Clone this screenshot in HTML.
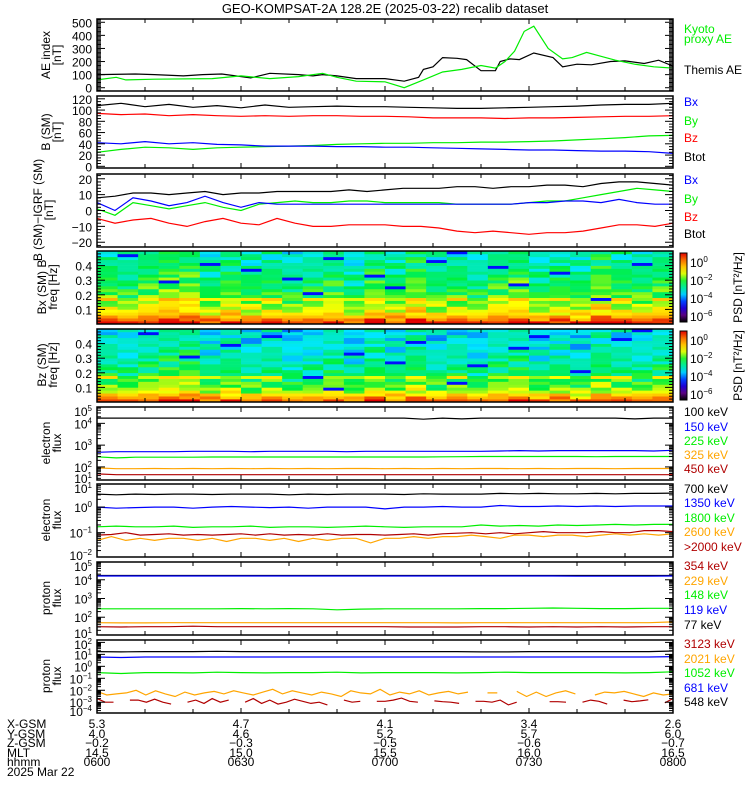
<!DOCTYPE html>
<html><head><meta charset="utf-8"><style>
html,body{margin:0;padding:0;background:#fff;}
svg{display:block;font-family:"Liberation Sans",sans-serif;}
</style></head><body>
<svg id="chart" width="750" height="800" viewBox="0 0 750 800" xmlns="http://www.w3.org/2000/svg">
<rect width="750" height="800" fill="#fff"/>
<text x="385" y="13" font-size="13" text-anchor="middle">GEO-KOMPSAT-2A 128.2E (2025-03-22) recalib dataset</text>
</svg>
<script>
// ---------- DATA ----------
const themisT = [0,8,12,18,22,26,32,36,42,45,47,50,54,60,64,67,68,70,72,75,77,80,82,83,84,86,88,91,95,97,100,103,107,110,114,117,120];
const themisAE = [100,105,100,90,100,105,75,110,100,90,100,90,70,70,50,80,140,160,230,225,215,130,130,130,200,220,215,265,230,160,180,175,200,205,185,210,165];
const kyotoT = [0,4,6,12,24,30,36,42,47,50,54,60,64,68,72,76,80,83,85,87,89,91,94,97,99,102,105,108,112,116,120];
const kyotoAE = [60,80,60,65,70,90,70,85,110,80,50,45,0,60,120,140,170,150,200,280,430,470,300,220,230,270,240,210,180,160,150];

const bTot = [108,112,106,110,105,108,104,109,105,106,107,106,106,105,104,103,103,104,105,106,107,109,110,110,112];
const bZ = [94,92,93,90,92,90,89,90,89,90,90,89,89,88,86,86,86,85,86,86,87,88,89,89,90];
const bY = [25,30,34,33,30,33,34,35,36,37,39,40,41,41,42,42,43,43,44,45,47,49,51,54,55];
const bX = [42,40,44,40,42,39,38,36,36,36,35,35,34,34,33,32,31,30,29,29,28,27,27,26,23];

const dTot = [8,9,11,11,10,11,12,10,11,11,12,12,12,12,13,12,13,14,14,14,15,15,14,15,15,16,16,15,17,18,18,17,16];
const dY = [1,-3,5,3,1,3,5,2,0,4,5,6,5,5,6,6,5,5,5,5,4,4,4,4,5,6,6,8,10,12,14,13,12];
const dX = [5,0,8,6,3,5,9,5,2,5,4,4,4,4,4,4,4,4,4,4,4,4,4,4,5,5,6,6,5,7,5,4,4];
const dZ = [-5,-8,-6,-5,-8,-10,-7,-5,-8,-9,-5,-8,-10,-10,-9,-9,-9,-10,-10,-11,-13,-14,-13,-14,-15,-14,-14,-13,-11,-9,-9,-10,-8];

const rowBaseBx = [0.97,0.9,0.82,0.76,0.72,0.7,0.68,0.66,0.73,0.61,0.6,0.58,0.57,0.56,0.57,0.55,0.54,0.53,0.52,0.52,0.5,0.5,0.49,0.48,0.5];
const rowBaseBz = [0.93,0.85,0.78,0.7,0.66,0.63,0.62,0.6,0.69,0.55,0.54,0.53,0.52,0.5,0.5,0.49,0.48,0.48,0.47,0.46,0.46,0.45,0.45,0.44,0.46];
const colOffBx = [0.02,-0.02,0.03,0.07,0.06,-0.03,0.02,-0.01,0,-0.04,-0.02,0.01,-0.05,0.03,-0.01,0.05,-0.02,0,-0.04,0.02,0.04,-0.03,0,-0.02,0.06,0.01,-0.01,0.02];
const colOffBz = [0.01,-0.02,0.02,0.05,0.06,-0.02,0.01,-0.03,0,-0.05,-0.03,0.01,-0.04,0.02,-0.02,0.03,-0.03,0,-0.05,0.01,0.03,-0.03,0,-0.04,0.03,0,-0.02,0.01];
const specTexture = [0,0.05,-0.06,0.03,-0.03,0.07,-0.05,0.02,-0.08,0.04,0,-0.02,0.06,-0.04,0.03,-0.07,0.01];
const stripesBx = [[1,23],[5,20],[7,18],[9,15],[11,22],[13,16],[14,12],[16,21],[17,24],[19,19],[20,13],[22,17],[24,8],[26,20],[3,14],[10,10]];
const stripesBz = [[2,23],[4,15],[8,22],[10,8],[12,16],[14,13],[15,20],[17,6],[18,12],[20,18],[21,22],[23,10],[25,21],[26,24],[6,19],[11,4]];

const e100 = [17400,17400,17400,17400,17400,17400,17400,17400,17400,17400,17400,17400,17400,17400,17400,17400,17400,15500,17400,16000,17400,17400,17400,17400,17400,17400,17400,17400,16000,17400,17400];
const e150 = [470,500,500,500,500,520,520,520,500,520,520,520,520,500,520,520,520,520,520,520,520,540,560,540,560,560,560,560,560,540,580];
const e225 = [290,260,280,280,280,280,285,285,285,285,285,285,285,285,285,285,285,285,290,295,300,300,300,300,300,300,295,300,300,300,300];
const e325 = [90,83,83,85,83,85,83,85,83,85,83,85,83,85,85,83,85,83,85,83,85,85,83,85,83,85,85,83,85,85,85];
const e450 = [48,44,44,44,44,44,44,44,44,44,44,44,44,44,44,44,44,44,44,44,44,44,44,44,44,44,44,44,44,44,44];

const e700 = [3.2,3.0,3.2,3.1,3.2,3.2,3.1,3.2,3.2,3.2,3.0,3.2,3.1,3.2,3.2,3.2,3.1,3.3,3.2,3.2,3.2,3.4,3.3,3.4,3.3,3.3,3.4,3.3,3.4,3.4,3.5];
const e1350 = [1.0,0.9,0.95,1.0,1.0,0.9,1.0,1.05,1.0,0.95,1.0,0.9,1.0,1.0,1.0,0.85,1.0,1.0,1.05,1.0,1.0,1.15,1.05,1.05,1.1,1.05,1.1,1.05,1.1,1.1,1.1];
const e1800 = [0.17,0.18,0.17,0.17,0.18,0.16,0.17,0.17,0.18,0.16,0.17,0.17,0.16,0.17,0.18,0.17,0.16,0.17,0.17,0.17,0.2,0.18,0.19,0.18,0.2,0.19,0.2,0.21,0.2,0.21,0.21];
const e2600 = [0.05,0.07,0.05,0.06,0.05,0.06,0.06,0.05,0.06,0.045,0.06,0.06,0.05,0.06,0.045,0.06,0.05,0.06,0.06,0.04,0.06,0.06,0.07,0.06,0.07,0.07,0.08,0.07,0.06,0.08,0.08,0.07,0.08,0.08,0.07,0.08,0.09,0.08,0.09,0.08,0.09];
const e2000 = [0.08,0.085,0.1,0.08,0.085,0.09,0.08,0.085,0.08,0.085,0.09,0.08,0.09,0.08,0.085,0.08,0.09,0.08,0.085,0.085,0.08,0.085,0.09,0.08,0.09,0.095,0.1,0.09,0.1,0.09,0.1,0.11,0.1,0.1,0.1,0.11,0.1,0.1,0.12,0.12,0.11];

const p77 = [17000,17000,17000,17000,17000,17000,17000,17000,17000,17000,17000,17000,17000,17000,17000,17000,17000,17000,17000,17000,17000,17000,17000,17000,17000];
const p119 = [16000,16000,16000,16000,16000,16000,16000,16000,16000,16000,16000,16000,16000,16000,16000,16000,16000,16000,16000,16000,15500,15500,15500,15500,16000];
const p148 = [280,280,280,280,280,280,290,280,290,280,250,270,280,280,280,280,290,290,300,310,300,290,290,300,300];
const p229 = [51,50,50,51,51,51,51,51,51,51,51,51,51,51,51,50,51,51,51,51,51,51,51,51,56];
const p354 = [31,30,31,31,33,31,31,31,31,31,31,31,31,30,30,30,31,31,30,31,30,31,30,31,31];

const p548 = [17,16,17,17,17,18,17,17,17,17,17,17,17,17,17,17,16,16,17,17,17,17,17,17,19];
const p681 = [6,5.5,6,6,6,6,6,6,6,6,6,6,6,6,6,6,6,6,6,6,6,6,6,6,6.5];
const p1052 = [0.3,0.25,0.3,0.3,0.28,0.32,0.3,0.28,0.3,0.3,0.32,0.28,0.3,0.3,0.3,0.28,0.3,0.32,0.3,0.3,0.3,0.3,0.28,0.3,0.35];
const p2021 = [8e-3,4e-3,5e-3,6e-3,10e-3,4e-3,9e-3,5e-3,3e-3,7e-3,4e-3,6e-3,8e-3,5e-3,9e-3,6e-3,4e-3,7e-3,12e-3,5e-3,9e-3,6e-3,4e-3,7e-3,5e-3,3e-3,9e-3,6e-3,5e-3,12e-3,4e-3,7e-3,5e-3,9e-3,4e-3,6e-3,8e-3,5e-3,7e-3,null,6e-3,6e-3,null,8e-3,3e-3,7e-3,3e-3,6e-3,9e-3,5e-3,null,4e-3,7e-3,6e-3,8e-3,5e-3,3e-3,6e-3,4e-3,5e-3];
const p3123 = [2e-3,1e-3,1e-3,null,1.5e-3,1.5e-3,1e-3,1.8e-3,1e-3,0.7e-3,null,1e-3,1.5e-3,0.8e-3,2e-3,1e-3,1.5e-3,null,1e-3,2e-3,0.8e-3,1.5e-3,0.7e-3,1e-3,1.8e-3,1.2e-3,0.8e-3,1e-3,0.6e-3,null,1.5e-3,1e-3,1.2e-3,null,1.2e-3,1.2e-3,1.5e-3,2.2e-3,1.2e-3,1e-3,null,1.3e-3,1.1e-3,1e-3,0.8e-3,null,1.2e-3,1.2e-3,1e-3,1.5e-3,0.6e-3,1e-3,null,0.7e-3,null,1.1e-3,1.1e-3,1e-3,null,1e-3,1.5e-3,1.2e-3,0.7e-3,null,1.5e-3,1.1e-3,1.3e-3,1.6e-3,null,0.9e-3,2e-3];

const xTickLabels = [["5.3","4.0","\u22120.2","14.5","0600"],["4.7","4.6","\u22120.3","15.0","0630"],["4.1","5.2","\u22120.5","15.5","0700"],["3.4","5.7","\u22120.6","16.0","0730"],["2.6","6.0","\u22120.7","16.5","0800"]];

// ---------- LAYOUT ----------
const NS = "http://www.w3.org/2000/svg";
const svg = document.getElementById('chart');
const X0 = 97, X1 = 673, T0 = 0, T1 = 120;
const GREEN = "#00ee00", BLUE = "#0000ff", RED = "#ff0000", ORANGE = "#ffa500", DRED = "#b00000";
function xScale(t){ return X0 + (t - T0) / (T1 - T0) * (X1 - X0); }
function el(tag, attrs, parent){ const e = document.createElementNS(NS, tag); for (const k in attrs) e.setAttribute(k, attrs[k]); (parent || svg).appendChild(e); return e; }
function mkY(p){ return v => { const u = p.log ? Math.log10(v) : v; return p.top + p.h - (u - p.min) / (p.max - p.min) * p.h; }; }

const panels = [
 {top:19,h:72,min:-25,max:525,log:false,major:[0,100,200,300,400,500],minor:10},
 {top:96,h:72,min:-3,max:125,log:false,major:[0,20,40,60,80,100,120],minor:5},
 {top:174,h:73,min:-23,max:23,log:false,major:[-20,-10,0,10,20],minor:2},
 {top:251,h:73,min:0,max:0.5,log:false,major:[0.1,0.2,0.3,0.4],minor:0.02},
 {top:329,h:73,min:0,max:0.5,log:false,major:[0.1,0.2,0.3,0.4],minor:0.02},
 {top:407,h:73,min:1.4,max:4.75,log:true,major:[1,2,3,4,5]},
 {top:484,h:73,min:-1.95,max:0.9,log:true,major:[-2,-1,0,1]},
 {top:562,h:73,min:1.05,max:4.95,log:true,major:[1,2,3,4,5]},
 {top:640,h:73,min:-3.9,max:2.2,log:true,major:[-4,-3,-2,-1,0,1,2]}
];

function drawLine(p, ts, vs, color, name){
  const y = mkY(p);
  let d = "", pen = false;
  for (let i = 0; i < vs.length; i++){
    if (vs[i] === null){ pen = false; continue; }
    const t = ts ? ts[i] : i / (vs.length - 1) * (T1 - T0);
    d += (pen ? "L" : "M") + xScale(t).toFixed(1) + " " + y(vs[i]).toFixed(1);
    pen = true;
  }
  const e = el('path', {d:d, fill:'none', stroke:color, 'stroke-width':1.2, 'clip-path':'url(#clip' + panels.indexOf(p) + ')'});
  
  
}

const defs = el('defs', {});
panels.forEach((p, i) => {
  const cp = el('clipPath', {id:'clip' + i}, defs);
  el('rect', {x:X0, y:p.top, width:X1 - X0, height:p.h}, cp);
});

// colormap
function cmap(t){
  t = Math.max(0, Math.min(1, t));
  const s = [[0,0,0,0],[0.1,90,0,130],[0.25,0,0,255],[0.42,0,230,255],[0.58,0,240,60],[0.72,255,255,0],[0.86,255,150,0],[1,225,0,0]];
  for (let i = 1; i < s.length; i++){
    if (t <= s[i][0]){ const a = s[i-1], b = s[i], f = (t - a[0]) / (b[0] - a[0]);
      return `rgb(${Math.round(a[1]+f*(b[1]-a[1]))},${Math.round(a[2]+f*(b[2]-a[2]))},${Math.round(a[3]+f*(b[3]-a[3]))})`; }
  }
  return 'rgb(225,0,0)';
}

function drawSpec(p, rowBase, colOff, stripes, name){
  const g = el('g', {'clip-path':'url(#clip' + panels.indexOf(p) + ')'});
  
  
  const nr = rowBase.length, nc = colOff.length;
  const cw = (X1 - X0) / nc, rh = p.h / nr;
  for (let c = 0; c < nc; c++){
    for (let r = 0; r < nr; r++){
      let v = rowBase[r] + colOff[c] + specTexture[(r * 7 + c * 3) % specTexture.length];
      stripes.forEach(s => { if (s[0] === c && s[1] === r) v = 0.26; });
      const cell = el('rect', {x:(X0 + c * cw).toFixed(2), y:(p.top + p.h - (r + 1) * rh).toFixed(2), width:(cw + 0.5).toFixed(2), height:(rh + 0.3).toFixed(2), fill:cmap(v)}, g);
      
      
    }
  }
}

// ---------- SERIES ----------
drawSpec(panels[3], rowBaseBx, colOffBx, stripesBx, 'bx-spectrogram');
drawSpec(panels[4], rowBaseBz, colOffBz, stripesBz, 'bz-spectrogram');

drawLine(panels[0], themisT, themisAE, '#000', 'themis-ae-line');
drawLine(panels[0], kyotoT, kyotoAE, GREEN, 'kyoto-ae-line');
drawLine(panels[1], null, bTot, '#000', 'btot-line');
drawLine(panels[1], null, bZ, RED, 'bz-line');
drawLine(panels[1], null, bY, GREEN, 'by-line');
drawLine(panels[1], null, bX, BLUE, 'bx-line');
drawLine(panels[2], null, dTot, '#000', 'dbtot-line');
drawLine(panels[2], null, dY, GREEN, 'dby-line');
drawLine(panels[2], null, dX, BLUE, 'dbx-line');
drawLine(panels[2], null, dZ, RED, 'dbz-line');
drawLine(panels[5], null, e100, '#000', 'e100-line');
drawLine(panels[5], null, e150, BLUE, 'e150-line');
drawLine(panels[5], null, e225, GREEN, 'e225-line');
drawLine(panels[5], null, e325, ORANGE, 'e325-line');
drawLine(panels[5], null, e450, DRED, 'e450-line');
drawLine(panels[6], null, e700, '#000', 'e700-line');
drawLine(panels[6], null, e1350, BLUE, 'e1350-line');
drawLine(panels[6], null, e1800, GREEN, 'e1800-line');
drawLine(panels[6], null, e2600, ORANGE, 'e2600-line');
drawLine(panels[6], null, e2000, DRED, 'e2000-line');
drawLine(panels[7], null, p77, '#000', 'p77-line');
drawLine(panels[7], null, p119, BLUE, 'p119-line');
drawLine(panels[7], null, p148, GREEN, 'p148-line');
drawLine(panels[7], null, p229, ORANGE, 'p229-line');
drawLine(panels[7], null, p354, DRED, 'p354-line');
drawLine(panels[8], null, p548, '#000', 'p548-line');
drawLine(panels[8], null, p681, BLUE, 'p681-line');
drawLine(panels[8], null, p1052, GREEN, 'p1052-line');
drawLine(panels[8], null, p2021, ORANGE, 'p2021-line');
drawLine(panels[8], null, p3123, DRED, 'p3123-line');

// ---------- AXES ----------
function txt(x, y, s, opts, name){
  const e = el('text', Object.assign({x:x, y:y, 'font-size':12}, opts || {}));
  e.textContent = s;
  
  
  return e;
}
function logLabel(x, y, exp, name){
  const e = el('text', {x:x, y:y, 'font-size':12, 'text-anchor':'end'});
  const a = el('tspan', {}, e); a.textContent = '10';
  const b = el('tspan', {dy:-5, 'font-size':8}, e); b.textContent = String(exp).replace('-', '\u2212');
  
  
}

panels.forEach((p, i) => {
  const y = mkY(p);
  const g = el('g', {stroke:'#000', 'stroke-width':1});
  
  
  el('rect', {x:X0, y:p.top, width:X1 - X0, height:p.h, fill:'none', 'stroke-width':1.5}, g);
  // x ticks every 10 min
  for (let t = 10; t < 120; t += 10){
    const x = xScale(t), L = (t % 30 === 0) ? 5 : 4;
    el('line', {x1:x, x2:x, y1:p.top + p.h, y2:p.top + p.h - L}, g);
    el('line', {x1:x, x2:x, y1:p.top, y2:p.top + L}, g);
  }
  // y ticks
  const ticks = [];
  if (p.log){
    for (let d = Math.floor(p.min); d <= Math.ceil(p.max); d++){
      for (let m = 1; m <= 9; m++){ const lv = d + Math.log10(m); if (lv >= p.min && lv <= p.max) ticks.push([Math.pow(10, lv), m === 1]); }
    }
  } else {
    for (let v = Math.ceil(p.min / p.minor) * p.minor; v <= p.max + 1e-9; v += p.minor){
      const isMaj = p.major.some(m => Math.abs(m - v) < 1e-6); ticks.push([v, isMaj]);
    }
  }
  ticks.forEach(([v, maj]) => {
    const yy = y(v), L = maj ? 8 : 4;
    el('line', {x1:X0, x2:X0 + L, y1:yy, y2:yy}, g);
    el('line', {x1:X1, x2:X1 - L, y1:yy, y2:yy}, g);
  });
  // labels
  p.major.forEach(m => {
    if (p.log){
      let yy = y(Math.pow(10, m)) + 5;
      yy = Math.max(p.top + 9, Math.min(p.top + p.h + 3, yy));
      logLabel(92, yy, m, 'y-tick-label');
    } else {
      const yy = y(m) + 5;
      txt(92, yy, String(m).replace('-', '\u2212'), {'text-anchor':'end'}, 'y-tick-label');
    }
  });
});

// y-axis titles
function ytitle(cx, cy, lines, name){
  const e = el('text', {transform:`translate(${cx},${cy}) rotate(-90)`, 'font-size':12, 'text-anchor':'middle'});
  lines.forEach((s, i) => { const t = el('tspan', {x:0, dy: i === 0 ? 0 : 11}, e); t.textContent = s; });
  
  
}
ytitle(50, 55, ['AE index', '[nT]'], 'ae-y-title');
ytitle(50, 132, ['B (SM)', '[nT]'], 'b-y-title');
ytitle(42, 210, ['B (SM)\u2212IGRF (SM)', '[nT]'], 'db-y-title');
ytitle(46, 287, ['Bx (SM) B', 'freq [Hz]'], 'bx-spec-y-title');
ytitle(46, 365, ['Bz (SM)', 'freq [Hz]'], 'bz-spec-y-title');
ytitle(50, 443, ['electron', 'flux'], 'e1-y-title');
ytitle(50, 520, ['electron', 'flux'], 'e2-y-title');
ytitle(50, 598, ['proton', 'flux'], 'p1-y-title');
ytitle(50, 676, ['proton', 'flux'], 'p2-y-title');

// legends
const legends = [
 [33,'Kyoto',GREEN],[43,'proxy AE',GREEN],[74,'Themis AE','#000'],
 [106,'Bx',BLUE],[125,'By',GREEN],[142,'Bz',RED],[161,'Btot','#000'],
 [184,'Bx',BLUE],[203,'By',GREEN],[221,'Bz',RED],[238,'Btot','#000'],
 [416,'100 keV','#000'],[431,'150 keV',BLUE],[445,'225 keV',GREEN],[459,'325 keV',ORANGE],[473,'450 keV',DRED],
 [493,'700 keV','#000'],[507,'1350 keV',BLUE],[522,'1800 keV',GREEN],[536,'2600 keV',ORANGE],[551,'>2000 keV',DRED],
 [570,'354 keV',DRED],[585,'229 keV',ORANGE],[599,'148 keV',GREEN],[614,'119 keV',BLUE],[629,'77 keV','#000'],
 [648,'3123 keV',DRED],[663,'2021 keV',ORANGE],[677,'1052 keV',GREEN],[692,'681 keV',BLUE],[706,'548 keV','#000']
];
legends.forEach(([yy, s, c]) => txt(684, yy, s, {fill:c}, 'legend-entry'));

// colorbars
[3, 4].forEach(i => {
  const p = panels[i];
  const gid = 'cbg' + i;
  const lg = el('linearGradient', {id:gid, x1:0, y1:1, x2:0, y2:0}, defs);
  for (let k = 0; k <= 10; k++) el('stop', {offset:k / 10, 'stop-color':cmap(k / 10)}, lg);
  const r = el('rect', {x:680, y:p.top + 2, width:7, height:p.h - 4, fill:'url(#' + gid + ')', stroke:'#000', 'stroke-width':1});
  
  
  const cbExp = [0, -2, -4, -6];
  cbExp.forEach((e, k) => {
    const yy = p.top + 16 + k * 18;
    const t = el('text', {x:690, y:yy, 'font-size':12});
    const a = el('tspan', {}, t); a.textContent = '10';
    const b = el('tspan', {dy:-5, 'font-size':8}, t); b.textContent = String(e).replace('-', '\u2212');
    
    
  });
  const lbl = el('text', {transform:`translate(742,${p.top + p.h / 2}) rotate(-90)`, 'font-size':12, 'text-anchor':'middle'});
  lbl.textContent = 'PSD [nT\u00b2/Hz]';
  
  
});

// x axis labels
const rowNames = ['X-GSM', 'Y-GSM', 'Z-GSM', 'MLT', 'hhmm'];
const rowY = [728, 738, 747, 757, 766];
rowNames.forEach((n, r) => txt(7, rowY[r], n, {}, 'x-row-label'));
xTickLabels.forEach((col, c) => {
  const x = xScale(c * 30);
  col.forEach((s, r) => txt(x, rowY[r], s, {'text-anchor':'middle'}, 'x-tick-label'));
});
txt(7, 776, '2025 Mar 22', {}, 'date-label');
</script>
</body></html>
